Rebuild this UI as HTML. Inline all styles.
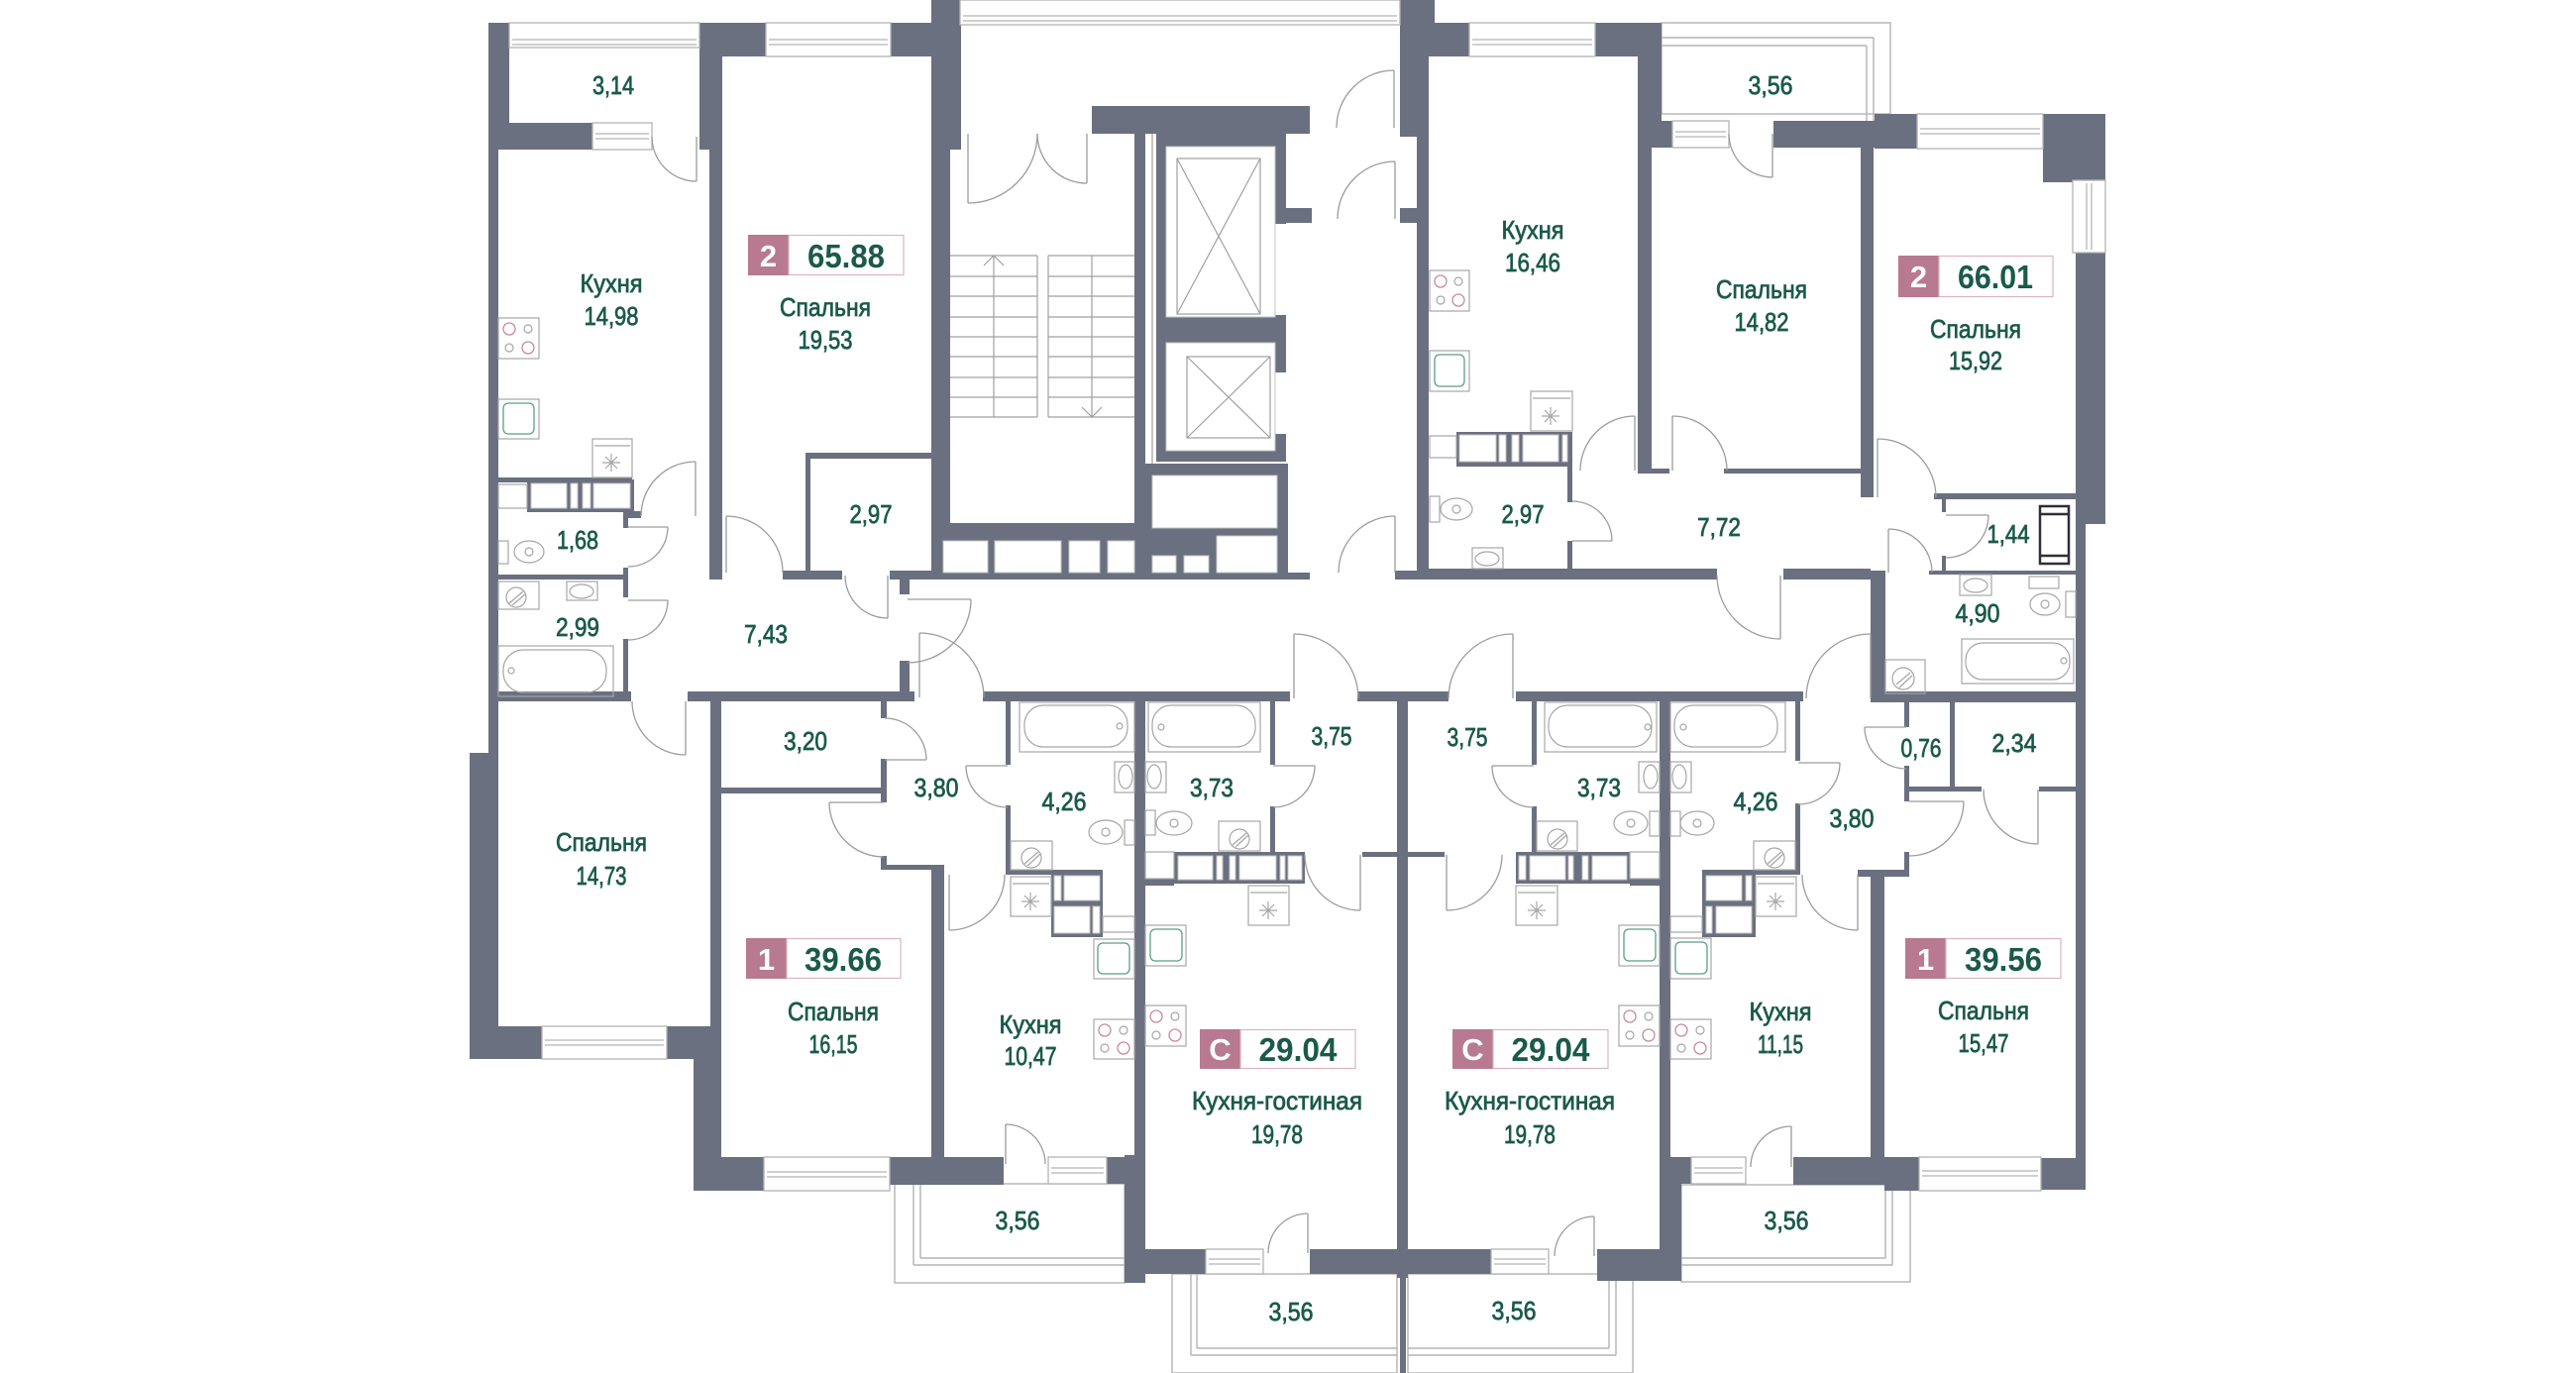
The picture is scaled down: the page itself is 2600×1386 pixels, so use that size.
<!DOCTYPE html>
<html><head><meta charset="utf-8">
<style>
html,body{margin:0;padding:0;background:#fff;}
svg{display:block;}
.lb{font-family:"Liberation Sans",sans-serif;fill:#1b5a4b;stroke:#1b5a4b;stroke-width:0.75;font-size:26px;text-anchor:middle;}
.bn{font-family:"Liberation Sans",sans-serif;fill:#1b5a4b;font-size:33px;font-weight:bold;text-anchor:middle;}
.bp{font-family:"Liberation Sans",sans-serif;fill:#fff;font-size:31px;font-weight:bold;text-anchor:middle;}
</style></head><body>
<svg width="2600" height="1386" viewBox="0 0 2600 1386" xmlns="http://www.w3.org/2000/svg">
<rect x="0" y="0" width="2600" height="1386" fill="#fff"/>

<!-- balcony frames -->
<g fill="none" stroke="#b3b3b3" stroke-width="1.4">
<rect x="1677" y="23" width="231" height="92"/>
<line x1="1677" y1="38" x2="1891" y2="38"/><line x1="1677" y1="46" x2="1884" y2="46"/>
<line x1="1884" y1="46" x2="1884" y2="122"/><line x1="1891" y1="38" x2="1891" y2="122"/>
<rect x="903" y="1195" width="232" height="100"/>
<line x1="922" y1="1195" x2="922" y2="1277"/><line x1="929" y1="1195" x2="929" y2="1270"/>
<line x1="929" y1="1270" x2="1135" y2="1270"/><line x1="922" y1="1277" x2="1135" y2="1277"/>
<rect x="1183" y="1286" width="227" height="100"/>
<line x1="1202" y1="1286" x2="1202" y2="1368"/><line x1="1208" y1="1286" x2="1208" y2="1361"/>
<line x1="1208" y1="1361" x2="1410" y2="1361"/><line x1="1202" y1="1368" x2="1410" y2="1368"/>
<rect x="1421" y="1286" width="227" height="100"/>
<line x1="1631" y1="1286" x2="1631" y2="1368"/><line x1="1624" y1="1286" x2="1624" y2="1361"/>
<line x1="1421" y1="1361" x2="1624" y2="1361"/><line x1="1421" y1="1368" x2="1631" y2="1368"/>
<rect x="1697" y="1196" width="231" height="98"/>
<line x1="1910" y1="1196" x2="1910" y2="1277"/><line x1="1903" y1="1196" x2="1903" y2="1270"/>
<line x1="1697" y1="1270" x2="1903" y2="1270"/><line x1="1697" y1="1277" x2="1910" y2="1277"/>
</g>

<!-- walls -->
<g fill="#6b7080">
<rect x="493" y="23" width="21" height="101"/>
<rect x="493" y="124" width="10" height="640"/>
<rect x="474" y="760" width="29" height="309"/>
<rect x="503" y="124" width="95" height="27"/>
<rect x="706" y="23" width="23" height="128"/>
<rect x="716" y="151" width="13" height="434"/>
<rect x="729" y="23" width="44" height="34"/>
<rect x="899" y="23" width="43" height="34"/>
<rect x="940" y="0" width="30" height="151"/>
<rect x="940" y="151" width="19" height="377"/>
<rect x="813" y="457" width="5" height="128"/>
<rect x="813" y="457" width="129" height="6"/>
<rect x="790" y="576" width="60" height="9"/>
<rect x="898" y="576" width="42" height="9"/>
<rect x="908" y="576" width="10" height="24"/>
<rect x="908" y="667" width="10" height="36"/>
<rect x="503" y="482" width="135" height="5"/>
<rect x="532" y="484" width="108" height="33"/>
<rect x="629" y="516" width="18" height="7"/>
<rect x="629" y="516" width="5" height="17"/>
<rect x="629" y="573" width="5" height="30"/>
<rect x="629" y="645" width="5" height="58"/>
<rect x="503" y="580" width="131" height="5"/>
<rect x="503" y="698" width="134" height="10"/>
<rect x="694" y="698" width="229" height="10"/>
<!-- stair / lobby -->
<rect x="1145" y="135" width="11" height="393"/>
<rect x="1102" y="107" width="220" height="28"/>
<rect x="940" y="528" width="205" height="57"/>
<rect x="1145" y="468" width="155" height="117"/>
<rect x="1300" y="578" width="22" height="7"/>
<rect x="1167" y="135" width="131" height="13"/>
<rect x="1167" y="135" width="10" height="331"/>
<rect x="1287" y="148" width="11" height="78"/>
<rect x="1298" y="210" width="26" height="15"/>
<rect x="1177" y="320" width="110" height="26"/>
<rect x="1287" y="318" width="11" height="58"/>
<rect x="1167" y="455" width="131" height="11"/>
<rect x="1287" y="438" width="11" height="28"/>
<rect x="1413" y="0" width="35" height="23"/>
<rect x="1413" y="23" width="70" height="34"/>
<rect x="1413" y="57" width="29" height="81"/>
<rect x="1430" y="138" width="12" height="447"/>
<rect x="1413" y="210" width="17" height="15"/>
<rect x="1408" y="576" width="32" height="9"/>
<!-- top right unit -->
<rect x="1610" y="23" width="43" height="34"/>
<rect x="1653" y="23" width="24" height="126"/>
<rect x="1653" y="149" width="14" height="329"/>
<rect x="1667" y="473" width="18" height="5"/>
<rect x="1677" y="122" width="11" height="27"/>
<rect x="1790" y="122" width="102" height="27"/>
<rect x="1892" y="115" width="43" height="35"/>
<rect x="2062" y="115" width="63" height="69"/>
<rect x="2095" y="255" width="30" height="274"/>
<rect x="2095" y="529" width="10" height="672"/>
<rect x="1878" y="149" width="13" height="353"/>
<rect x="1740" y="473" width="138" height="5"/>
<rect x="1470" y="436" width="117" height="35"/>
<rect x="1582" y="436" width="5" height="71"/>
<rect x="1582" y="546" width="5" height="30"/>
<rect x="1440" y="574" width="293" height="11"/>
<rect x="1800" y="574" width="88" height="11"/>
<rect x="1888" y="576" width="15" height="133"/>
<rect x="1947" y="576" width="148" height="4"/>
<rect x="1952" y="498" width="143" height="6"/>
<rect x="1960" y="504" width="4" height="13"/>
<rect x="1960" y="561" width="4" height="15"/>
<!-- corridor bottom + bottom units -->
<rect x="992" y="698" width="310" height="10"/>
<rect x="1370" y="698" width="92" height="10"/>
<rect x="1530" y="698" width="290" height="10"/>
<rect x="1888" y="698" width="217" height="11"/>
<rect x="1410" y="708" width="11" height="582"/>
<rect x="1413" y="1290" width="6" height="96"/>
<rect x="1145" y="708" width="11" height="460"/>
<rect x="1675" y="708" width="11" height="460"/>
<rect x="1015" y="708" width="5" height="64"/>
<rect x="1015" y="813" width="5" height="70"/>
<rect x="1015" y="878" width="98" height="5"/>
<rect x="1061" y="880" width="52" height="66"/>
<rect x="1282" y="708" width="5" height="64"/>
<rect x="1282" y="814" width="5" height="46"/>
<rect x="1185" y="860" width="132" height="32"/>
<rect x="1156" y="887" width="29" height="7"/>
<rect x="1375" y="860" width="35" height="5"/>
<rect x="1421" y="860" width="37" height="5"/>
<rect x="1546" y="708" width="5" height="64"/>
<rect x="1546" y="814" width="5" height="46"/>
<rect x="1530" y="860" width="115" height="32"/>
<rect x="1645" y="887" width="30" height="7"/>
<rect x="1812" y="708" width="5" height="60"/>
<rect x="1812" y="811" width="5" height="72"/>
<rect x="1718" y="878" width="99" height="5"/>
<rect x="1718" y="880" width="54" height="66"/>
<rect x="1875" y="878" width="52" height="7"/>
<rect x="1888" y="878" width="14" height="291"/>
<rect x="717" y="708" width="11" height="460"/>
<rect x="728" y="795" width="161" height="6"/>
<rect x="889" y="708" width="6" height="17"/>
<rect x="889" y="766" width="6" height="44"/>
<rect x="889" y="864" width="6" height="14"/>
<rect x="889" y="873" width="64" height="5"/>
<rect x="940" y="873" width="13" height="295"/>
<rect x="1922" y="709" width="5" height="25"/>
<rect x="1922" y="773" width="5" height="36"/>
<rect x="1968" y="709" width="5" height="85"/>
<rect x="1927" y="794" width="73" height="5"/>
<rect x="2058" y="794" width="37" height="5"/>
<rect x="1922" y="860" width="5" height="24"/>
<!-- bottom outer walls -->
<rect x="474" y="1036" width="73" height="33"/>
<rect x="673" y="1036" width="55" height="33"/>
<rect x="700" y="1069" width="28" height="133"/>
<rect x="700" y="1168" width="71" height="34"/>
<rect x="898" y="1168" width="115" height="28"/>
<rect x="1117" y="1168" width="39" height="27"/>
<rect x="1135" y="1166" width="21" height="129"/>
<rect x="1135" y="1261" width="82" height="25"/>
<rect x="1322" y="1261" width="88" height="25"/>
<rect x="1421" y="1261" width="84" height="25"/>
<rect x="1612" y="1261" width="85" height="32"/>
<rect x="1675" y="1168" width="22" height="125"/>
<rect x="1686" y="1168" width="21" height="27"/>
<rect x="1810" y="1168" width="123" height="28"/>
<rect x="1902" y="1168" width="35" height="34"/>
<rect x="2060" y="1169" width="45" height="32"/>
</g>

<!-- white holes in dark blocks -->
<g fill="#fff" stroke="#c4c4c4" stroke-width="1">
<rect x="536" y="488" width="36" height="25"/><rect x="576" y="488" width="7" height="25"/><rect x="588" y="488" width="8" height="25"/><rect x="599" y="488" width="37" height="25"/>
<rect x="952" y="546" width="45" height="32"/><rect x="1004" y="546" width="67" height="32"/><rect x="1079" y="546" width="31" height="32"/><rect x="1118" y="546" width="27" height="32"/>
<rect x="1163" y="480" width="126" height="53"/><rect x="1163" y="561" width="24" height="17"/><rect x="1195" y="561" width="25" height="17"/><rect x="1228" y="541" width="61" height="37"/>
<rect x="1473" y="439" width="37" height="27"/><rect x="1513" y="439" width="7" height="27"/><rect x="1526" y="439" width="7" height="27"/><rect x="1537" y="439" width="36" height="27"/><rect x="1577" y="439" width="5" height="27"/>
<rect x="1064" y="884" width="7" height="25"/><rect x="1074" y="884" width="36" height="25"/><rect x="1064" y="915" width="36" height="27"/><rect x="1103" y="915" width="7" height="27"/>
<rect x="1189" y="864" width="35" height="24"/><rect x="1228" y="864" width="6" height="24"/><rect x="1241" y="864" width="6" height="24"/><rect x="1251" y="864" width="37" height="24"/><rect x="1292" y="864" width="5" height="24"/><rect x="1300" y="864" width="14" height="24"/>
<rect x="1533" y="864" width="7" height="24"/><rect x="1544" y="864" width="36" height="24"/><rect x="1583" y="864" width="5" height="24"/><rect x="1597" y="864" width="6" height="24"/><rect x="1607" y="864" width="35" height="24"/>
<rect x="1722" y="884" width="36" height="25"/><rect x="1762" y="884" width="6" height="25"/><rect x="1722" y="915" width="6" height="27"/><rect x="1732" y="915" width="36" height="27"/>
<rect x="1177" y="148" width="110" height="172"/>
<rect x="1177" y="346" width="110" height="109"/>
</g>

<!-- windows -->
<g fill="#fff" stroke="#b3b3b3" stroke-width="1.3">
<rect x="514" y="23" width="192" height="25"/><line x1="517" y1="40" x2="703" y2="40"/><line x1="517" y1="45" x2="703" y2="45"/>
<rect x="598" y="124" width="60" height="27"/><line x1="601" y1="135" x2="655" y2="135"/><line x1="601" y1="140" x2="655" y2="140"/>
<rect x="773" y="23" width="126" height="34"/><line x1="776" y1="40" x2="896" y2="40"/><line x1="776" y1="45" x2="896" y2="45"/>
<rect x="969" y="0" width="444" height="25"/><line x1="972" y1="16" x2="1410" y2="16"/><line x1="972" y1="21" x2="1410" y2="21"/>
<rect x="1483" y="23" width="127" height="34"/><line x1="1486" y1="40" x2="1607" y2="40"/><line x1="1486" y1="45" x2="1607" y2="45"/>
<rect x="1688" y="122" width="57" height="27"/><line x1="1691" y1="133" x2="1742" y2="133"/><line x1="1691" y1="138" x2="1742" y2="138"/>
<rect x="1935" y="115" width="127" height="35"/><line x1="1938" y1="130" x2="2059" y2="130"/><line x1="1938" y1="135" x2="2059" y2="135"/>
<rect x="2092" y="182" width="33" height="73"/><line x1="2106" y1="185" x2="2106" y2="252"/><line x1="2111" y1="185" x2="2111" y2="252"/>
<rect x="547" y="1036" width="126" height="33"/><line x1="550" y1="1050" x2="670" y2="1050"/><line x1="550" y1="1055" x2="670" y2="1055"/>
<rect x="771" y="1168" width="127" height="34"/><line x1="774" y1="1183" x2="895" y2="1183"/><line x1="774" y1="1188" x2="895" y2="1188"/>
<rect x="1058" y="1168" width="59" height="27"/><line x1="1061" y1="1179" x2="1114" y2="1179"/><line x1="1061" y1="1184" x2="1114" y2="1184"/>
<rect x="1217" y="1261" width="58" height="25"/><line x1="1220" y1="1271" x2="1272" y2="1271"/><line x1="1220" y1="1276" x2="1272" y2="1276"/>
<rect x="1505" y="1261" width="58" height="25"/><line x1="1508" y1="1271" x2="1560" y2="1271"/><line x1="1508" y1="1276" x2="1560" y2="1276"/>
<rect x="1707" y="1168" width="55" height="27"/><line x1="1710" y1="1179" x2="1759" y2="1179"/><line x1="1710" y1="1184" x2="1759" y2="1184"/>
<rect x="1937" y="1168" width="123" height="34"/><line x1="1940" y1="1182" x2="2057" y2="1182"/><line x1="1940" y1="1187" x2="2057" y2="1187"/>
</g>

<!-- doors -->
<g fill="none" stroke="#9c9c9c" stroke-width="1.3">
<path d="M702 466 A55 55 0 0 0 647 521"/><line x1="702" y1="521" x2="702" y2="466"/>
<path d="M703 183 A45 45 0 0 1 658 138"/><line x1="703" y1="138" x2="703" y2="183"/>
<path d="M674 532 A40 40 0 0 1 634 572"/><line x1="634" y1="532" x2="674" y2="532"/>
<path d="M674 606 A40 40 0 0 1 634 646"/><line x1="634" y1="606" x2="674" y2="606"/>
<path d="M733 521 A57 57 0 0 1 790 578"/><line x1="733" y1="578" x2="733" y2="521"/>
<path d="M896 624 A43 43 0 0 1 853 581"/><line x1="896" y1="581" x2="896" y2="624"/>
<path d="M692 762 A54 54 0 0 1 638 708"/><line x1="692" y1="708" x2="692" y2="762"/>
<path d="M980 605 A64 64 0 0 1 916 669"/><line x1="916" y1="605" x2="980" y2="605"/>
<path d="M928 639 A65 65 0 0 1 993 704"/><line x1="928" y1="704" x2="928" y2="639"/>
<path d="M935 767 A42 42 0 0 0 893 725"/><line x1="893" y1="767" x2="935" y2="767"/>
<path d="M837 810 A55 55 0 0 0 892 865"/><line x1="892" y1="810" x2="837" y2="810"/>
<path d="M975 773 A42 42 0 0 0 1017 815"/><line x1="1017" y1="773" x2="975" y2="773"/>
<path d="M958 939 A56 56 0 0 0 1014 883"/><line x1="958" y1="883" x2="958" y2="939"/>
<path d="M1327 773 A42 42 0 0 1 1285 815"/><line x1="1285" y1="773" x2="1327" y2="773"/>
<path d="M1373 919 A56 56 0 0 1 1317 863"/><line x1="1373" y1="863" x2="1373" y2="919"/>
<path d="M1306 640 A65 65 0 0 1 1371 705"/><line x1="1306" y1="705" x2="1306" y2="640"/>
<path d="M1527 640 A65 65 0 0 0 1462 705"/><line x1="1527" y1="705" x2="1527" y2="640"/>
<path d="M1506 773 A42 42 0 0 0 1548 815"/><line x1="1548" y1="773" x2="1506" y2="773"/>
<path d="M1460 919 A56 56 0 0 0 1516 863"/><line x1="1460" y1="863" x2="1460" y2="919"/>
<path d="M1857 770 A42 42 0 0 1 1815 812"/><line x1="1815" y1="770" x2="1857" y2="770"/>
<path d="M1875 939 A56 56 0 0 1 1819 883"/><line x1="1875" y1="883" x2="1875" y2="939"/>
<path d="M1888 640 A65 65 0 0 0 1823 705"/><line x1="1888" y1="705" x2="1888" y2="640"/>
<path d="M1882 734 A42 42 0 0 0 1924 776"/><line x1="1924" y1="734" x2="1882" y2="734"/>
<path d="M1982 809 A55 55 0 0 1 1927 864"/><line x1="1927" y1="809" x2="1982" y2="809"/>
<path d="M2057 852 A55 55 0 0 1 2002 797"/><line x1="2057" y1="797" x2="2057" y2="852"/>
<path d="M1015 1135 A40 40 0 0 1 1055 1175"/><line x1="1015" y1="1175" x2="1015" y2="1135"/>
<path d="M1320 1225 A40 40 0 0 0 1280 1265"/><line x1="1320" y1="1265" x2="1320" y2="1225"/>
<path d="M1609 1228 A40 40 0 0 0 1569 1268"/><line x1="1609" y1="1268" x2="1609" y2="1228"/>
<path d="M1808 1137 A41 41 0 0 0 1767 1178"/><line x1="1808" y1="1178" x2="1808" y2="1137"/>
<path d="M1408 521 A57 57 0 0 0 1351 578"/><line x1="1408" y1="578" x2="1408" y2="521"/>
<path d="M1407 71 A58 58 0 0 0 1349 129"/><line x1="1407" y1="129" x2="1407" y2="71"/>
<path d="M1408 163 A58 58 0 0 0 1350 221"/><line x1="1408" y1="221" x2="1408" y2="163"/>
<path d="M977 205 A70 70 0 0 0 1047 135"/><line x1="977" y1="135" x2="977" y2="205"/>
<path d="M1097 185 A50 50 0 0 1 1047 135"/><line x1="1097" y1="135" x2="1097" y2="185"/>
<path d="M1650 420 A55 55 0 0 0 1595 475"/><line x1="1650" y1="475" x2="1650" y2="420"/>
<path d="M1688 420 A55 55 0 0 1 1743 475"/><line x1="1688" y1="475" x2="1688" y2="420"/>
<path d="M1789 179 A44 44 0 0 1 1745 135"/><line x1="1789" y1="135" x2="1789" y2="179"/>
<path d="M1627 546 A40 40 0 0 0 1587 506"/><line x1="1587" y1="546" x2="1627" y2="546"/>
<path d="M1797 645 A64 64 0 0 1 1733 581"/><line x1="1797" y1="581" x2="1797" y2="645"/>
<path d="M1895 443 A59 59 0 0 1 1954 502"/><line x1="1895" y1="502" x2="1895" y2="443"/>
<path d="M2007 520 A43 43 0 0 1 1964 563"/><line x1="1964" y1="520" x2="2007" y2="520"/>
<path d="M1906 534 A44 44 0 0 1 1950 578"/><line x1="1906" y1="578" x2="1906" y2="534"/>
</g>

<!-- stairs & elevators -->
<g fill="none" stroke="#a0a0a0" stroke-width="1.2">
<path d="M959 258H1047M1058 258H1145M959 279H1047M1058 279H1145M959 299H1047M1058 299H1145M959 320H1047M1058 320H1145M959 340H1047M1058 340H1145M959 360H1047M1058 360H1145M959 381H1047M1058 381H1145M959 401H1047M1058 401H1145M959 421H1047M1058 421H1145"/>
<path d="M1047 258V421M1058 258V421M1003 258V421M1102 258V421"/>
<path d="M993 268L1003 258L1013 268M1092 411L1102 421L1112 411"/>
<rect x="1188" y="160" width="84" height="157"/><path d="M1188 160L1272 317M1272 160L1188 317"/>
<rect x="1198" y="360" width="84" height="82"/><path d="M1198 360L1282 442M1282 360L1198 442"/>
<line x1="1163" y1="135" x2="1163" y2="468"/>
</g>

<!-- fixtures -->
<g fill="none" stroke="#a6a6a6" stroke-width="1.2">
<rect x="503" y="652" width="116" height="51"/><rect x="508" y="656" width="104" height="43" rx="20"/><circle cx="516" cy="677" r="3"/>
<rect x="1980" y="645" width="113" height="45"/><rect x="1984" y="649" width="105" height="37" rx="17"/><circle cx="2083" cy="667" r="3"/>
<rect x="1029" y="709" width="116" height="50"/><rect x="1034" y="712" width="104" height="42" rx="19"/><circle cx="1130" cy="733" r="3"/>
<rect x="1159" y="709" width="113" height="50"/><rect x="1163" y="712" width="104" height="42" rx="19"/><circle cx="1172" cy="734" r="3"/>
<rect x="1559" y="709" width="113" height="50"/><rect x="1563" y="712" width="104" height="42" rx="19"/><circle cx="1663" cy="734" r="3"/>
<rect x="1686" y="709" width="116" height="50"/><rect x="1690" y="712" width="104" height="42" rx="19"/><circle cx="1699" cy="734" r="3"/>
<rect x="503" y="546" width="10" height="23"/><ellipse cx="534" cy="557" rx="15" ry="11"/><circle cx="534" cy="557" r="4"/>
<rect x="1443" y="501" width="10" height="26"/><ellipse cx="1470" cy="514" rx="16" ry="11"/><circle cx="1470" cy="514" r="4"/>
<rect x="2085" y="597" width="10" height="26"/><ellipse cx="2064" cy="610" rx="15" ry="11"/><circle cx="2064" cy="610" r="4"/>
<rect x="1135" y="828" width="10" height="25"/><ellipse cx="1116" cy="840" rx="17" ry="12"/><circle cx="1116" cy="840" r="4"/>
<rect x="1156" y="818" width="10" height="25"/><ellipse cx="1185" cy="831" rx="18" ry="12"/><circle cx="1185" cy="831" r="4"/>
<rect x="1665" y="819" width="10" height="25"/><ellipse cx="1646" cy="831" rx="17" ry="12"/><circle cx="1646" cy="831" r="4"/>
<rect x="1686" y="819" width="10" height="25"/><ellipse cx="1713" cy="831" rx="17" ry="12"/><circle cx="1713" cy="831" r="4"/>
<rect x="572" y="587" width="31" height="19"/><ellipse cx="587" cy="597" rx="12" ry="7"/>
<rect x="1486" y="553" width="31" height="21"/><ellipse cx="1501" cy="564" rx="12" ry="7"/>
<rect x="1978" y="580" width="32" height="21"/><ellipse cx="1994" cy="591" rx="12" ry="7"/>
<rect x="1125" y="769" width="20" height="31"/><ellipse cx="1136" cy="784" rx="7" ry="12"/>
<rect x="1156" y="769" width="21" height="31"/><ellipse cx="1165" cy="784" rx="7" ry="12"/>
<rect x="1654" y="769" width="21" height="31"/><ellipse cx="1666" cy="784" rx="7" ry="12"/>
<rect x="1686" y="769" width="21" height="31"/><ellipse cx="1695" cy="784" rx="7" ry="12"/>
<rect x="503" y="587" width="41" height="28"/><circle cx="521" cy="603" r="10"/><path d="M514 609L528 597M517 611L530 600"/>
<rect x="1903" y="666" width="40" height="34"/><circle cx="1921" cy="685" r="11"/><path d="M1914 691L1928 679M1917 694L1930 682"/>
<rect x="1020" y="849" width="42" height="29"/><circle cx="1041" cy="866" r="10"/><path d="M1034 872L1048 860M1037 874L1050 862"/>
<rect x="1230" y="829" width="42" height="30"/><circle cx="1251" cy="847" r="10"/><path d="M1244 853L1258 841M1247 855L1260 843"/>
<rect x="1551" y="829" width="41" height="30"/><circle cx="1572" cy="847" r="10"/><path d="M1565 853L1579 841M1568 855L1581 843"/>
<rect x="1770" y="849" width="42" height="29"/><circle cx="1791" cy="866" r="10"/><path d="M1784 872L1798 860M1787 874L1800 862"/>
<rect x="598" y="443" width="40" height="39"/><line x1="600" y1="450" x2="636" y2="450"/><path d="M608 467H626M617 458V476M611 461L623 473M623 461L611 473"/>
<rect x="1545" y="395" width="42" height="40"/><line x1="1547" y1="402" x2="1585" y2="402"/><path d="M1556 420H1574M1565 411V429M1559 414L1571 426M1571 414L1559 426"/>
<rect x="1020" y="885" width="41" height="40"/><line x1="1022" y1="892" x2="1059" y2="892"/><path d="M1031 910H1049M1040 901V919M1034 904L1046 916M1046 904L1034 916"/>
<rect x="1260" y="894" width="41" height="40"/><line x1="1262" y1="901" x2="1299" y2="901"/><path d="M1271 919H1289M1280 910V928M1274 913L1286 925M1286 913L1274 925"/>
<rect x="1530" y="894" width="42" height="40"/><line x1="1532" y1="901" x2="1570" y2="901"/><path d="M1542 919H1560M1551 910V928M1545 913L1557 925M1557 913L1545 925"/>
<rect x="1772" y="885" width="41" height="40"/><line x1="1774" y1="892" x2="1811" y2="892"/><path d="M1783 910H1801M1792 901V919M1786 904L1798 916M1798 904L1786 916"/>
<rect x="503" y="489" width="29" height="24"/>
<rect x="1443" y="440" width="27" height="22"/>
<rect x="1113" y="925" width="32" height="16"/>
<rect x="1686" y="925" width="32" height="16"/>
<rect x="1156" y="860" width="29" height="27"/>
<rect x="1645" y="860" width="30" height="27"/>
<rect x="2048" y="582" width="30" height="12"/>
<rect x="503" y="403" width="41" height="40"/><rect x="1443" y="354" width="40" height="41"/>
<rect x="1104" y="948" width="41" height="40"/><rect x="1156" y="934" width="41" height="41"/>
<rect x="1634" y="934" width="41" height="41"/><rect x="1686" y="947" width="41" height="41"/>
<rect x="503" y="321" width="41" height="41"/><rect x="1443" y="273" width="40" height="41"/>
<rect x="1104" y="1029" width="41" height="40"/><rect x="1156" y="1015" width="41" height="41"/>
<rect x="1634" y="1015" width="41" height="41"/><rect x="1686" y="1029" width="41" height="40"/>
<circle cx="533" cy="332" r="4"/><circle cx="514" cy="351" r="4"/>
<circle cx="1472" cy="284" r="4"/><circle cx="1454" cy="303" r="4"/>
<circle cx="1134" cy="1040" r="4"/><circle cx="1115" cy="1058" r="4"/>
<circle cx="1186" cy="1026" r="4"/><circle cx="1167" cy="1045" r="4"/>
<circle cx="1664" cy="1026" r="4"/><circle cx="1645" cy="1045" r="4"/>
<circle cx="1716" cy="1040" r="4"/><circle cx="1697" cy="1058" r="4"/>
</g>
<g fill="none" stroke="#c98a9c" stroke-width="1.3">
<circle cx="514" cy="332" r="6"/><circle cx="533" cy="351" r="6"/>
<circle cx="1454" cy="284" r="6"/><circle cx="1472" cy="303" r="6"/>
<circle cx="1115" cy="1040" r="6"/><circle cx="1134" cy="1058" r="6"/>
<circle cx="1167" cy="1026" r="6"/><circle cx="1186" cy="1045" r="6"/>
<circle cx="1645" cy="1026" r="6"/><circle cx="1664" cy="1045" r="6"/>
<circle cx="1697" cy="1040" r="6"/><circle cx="1716" cy="1058" r="6"/>
</g>
<g fill="none" stroke="#5a9e8a" stroke-width="1.3">
<rect x="508" y="407" width="31" height="31" rx="5"/>
<rect x="1448" y="358" width="30" height="32" rx="5"/>
<rect x="1108" y="952" width="32" height="31" rx="5"/>
<rect x="1161" y="938" width="32" height="32" rx="5"/>
<rect x="1639" y="938" width="32" height="32" rx="5"/>
<rect x="1691" y="951" width="32" height="32" rx="5"/>
</g>
<g fill="none" stroke="#2f2f3a" stroke-width="2.5">
<rect x="2059" y="511" width="29" height="58"/><line x1="2059" y1="519" x2="2088" y2="519"/><line x1="2059" y1="561" x2="2088" y2="561"/>
</g>

<!-- badges -->
<g>
<rect x="755" y="237" width="41" height="41" fill="#b87a90"/><rect x="796" y="237.5" width="116" height="40" fill="#fff" stroke="#dcb3c1" stroke-width="1.2"/>
<text class="bp" x="775.5" y="269">2</text><text class="bn" x="854" y="270" textLength="78" lengthAdjust="spacingAndGlyphs">65.88</text>
<rect x="1916" y="258" width="41" height="42" fill="#b87a90"/><rect x="1957" y="258.5" width="115" height="41" fill="#fff" stroke="#dcb3c1" stroke-width="1.2"/>
<text class="bp" x="1936.5" y="290">2</text><text class="bn" x="2014" y="291" textLength="76" lengthAdjust="spacingAndGlyphs">66.01</text>
<rect x="753" y="947" width="41" height="41" fill="#b87a90"/><rect x="794" y="947.5" width="115" height="40" fill="#fff" stroke="#dcb3c1" stroke-width="1.2"/>
<text class="bp" x="773.5" y="979">1</text><text class="bn" x="851" y="980" textLength="78" lengthAdjust="spacingAndGlyphs">39.66</text>
<rect x="1923" y="947" width="41" height="41" fill="#b87a90"/><rect x="1964" y="947.5" width="116" height="40" fill="#fff" stroke="#dcb3c1" stroke-width="1.2"/>
<text class="bp" x="1943.5" y="979">1</text><text class="bn" x="2022" y="980" textLength="78" lengthAdjust="spacingAndGlyphs">39.56</text>
<rect x="1211" y="1039" width="41" height="40" fill="#b87a90"/><rect x="1252" y="1039.5" width="116" height="39" fill="#fff" stroke="#dcb3c1" stroke-width="1.2"/>
<text class="bp" x="1231.5" y="1070">С</text><text class="bn" x="1310" y="1071" textLength="79" lengthAdjust="spacingAndGlyphs">29.04</text>
<rect x="1466" y="1039" width="41" height="40" fill="#b87a90"/><rect x="1507" y="1039.5" width="116" height="39" fill="#fff" stroke="#dcb3c1" stroke-width="1.2"/>
<text class="bp" x="1486.5" y="1070">С</text><text class="bn" x="1565" y="1071" textLength="79" lengthAdjust="spacingAndGlyphs">29.04</text>
</g>

<!-- labels -->
<g>
<text class="lb" x="619" y="95" textLength="42" lengthAdjust="spacingAndGlyphs">3,14</text>
<text class="lb" x="617" y="295" textLength="63" lengthAdjust="spacingAndGlyphs">Кухня</text>
<text class="lb" x="617" y="328" textLength="55" lengthAdjust="spacingAndGlyphs">14,98</text>
<text class="lb" x="833" y="319" textLength="92" lengthAdjust="spacingAndGlyphs">Спальня</text>
<text class="lb" x="833" y="352" textLength="55" lengthAdjust="spacingAndGlyphs">19,53</text>
<text class="lb" x="879" y="528" textLength="43" lengthAdjust="spacingAndGlyphs">2,97</text>
<text class="lb" x="583" y="554" textLength="42" lengthAdjust="spacingAndGlyphs">1,68</text>
<text class="lb" x="583" y="642" textLength="44" lengthAdjust="spacingAndGlyphs">2,99</text>
<text class="lb" x="773" y="649" textLength="44" lengthAdjust="spacingAndGlyphs">7,43</text>
<text class="lb" x="1787" y="95" textLength="45" lengthAdjust="spacingAndGlyphs">3,56</text>
<text class="lb" x="1547" y="241" textLength="63" lengthAdjust="spacingAndGlyphs">Кухня</text>
<text class="lb" x="1547" y="274" textLength="56" lengthAdjust="spacingAndGlyphs">16,46</text>
<text class="lb" x="1778" y="301" textLength="92" lengthAdjust="spacingAndGlyphs">Спальня</text>
<text class="lb" x="1778" y="334" textLength="55" lengthAdjust="spacingAndGlyphs">14,82</text>
<text class="lb" x="1994" y="341" textLength="92" lengthAdjust="spacingAndGlyphs">Спальня</text>
<text class="lb" x="1994" y="373" textLength="54" lengthAdjust="spacingAndGlyphs">15,92</text>
<text class="lb" x="1537" y="528" textLength="43" lengthAdjust="spacingAndGlyphs">2,97</text>
<text class="lb" x="1735" y="541" textLength="44" lengthAdjust="spacingAndGlyphs">7,72</text>
<text class="lb" x="2027" y="548" textLength="43" lengthAdjust="spacingAndGlyphs">1,44</text>
<text class="lb" x="1996" y="628" textLength="45" lengthAdjust="spacingAndGlyphs">4,90</text>
<text class="lb" x="813" y="757" textLength="44" lengthAdjust="spacingAndGlyphs">3,20</text>
<text class="lb" x="945" y="804" textLength="45" lengthAdjust="spacingAndGlyphs">3,80</text>
<text class="lb" x="1074" y="818" textLength="45" lengthAdjust="spacingAndGlyphs">4,26</text>
<text class="lb" x="1223" y="804" textLength="44" lengthAdjust="spacingAndGlyphs">3,73</text>
<text class="lb" x="1344" y="752" textLength="41" lengthAdjust="spacingAndGlyphs">3,75</text>
<text class="lb" x="607" y="859" textLength="92" lengthAdjust="spacingAndGlyphs">Спальня</text>
<text class="lb" x="607" y="893" textLength="51" lengthAdjust="spacingAndGlyphs">14,73</text>
<text class="lb" x="841" y="1030" textLength="92" lengthAdjust="spacingAndGlyphs">Спальня</text>
<text class="lb" x="841" y="1063" textLength="49" lengthAdjust="spacingAndGlyphs">16,15</text>
<text class="lb" x="1040" y="1043" textLength="63" lengthAdjust="spacingAndGlyphs">Кухня</text>
<text class="lb" x="1040" y="1075" textLength="53" lengthAdjust="spacingAndGlyphs">10,47</text>
<text class="lb" x="1289" y="1120" textLength="172" lengthAdjust="spacingAndGlyphs">Кухня-гостиная</text>
<text class="lb" x="1289" y="1154" textLength="52" lengthAdjust="spacingAndGlyphs">19,78</text>
<text class="lb" x="1027" y="1241" textLength="45" lengthAdjust="spacingAndGlyphs">3,56</text>
<text class="lb" x="1303" y="1333" textLength="45" lengthAdjust="spacingAndGlyphs">3,56</text>
<text class="lb" x="1481" y="753" textLength="41" lengthAdjust="spacingAndGlyphs">3,75</text>
<text class="lb" x="1614" y="804" textLength="44" lengthAdjust="spacingAndGlyphs">3,73</text>
<text class="lb" x="1772" y="818" textLength="45" lengthAdjust="spacingAndGlyphs">4,26</text>
<text class="lb" x="1869" y="835" textLength="45" lengthAdjust="spacingAndGlyphs">3,80</text>
<text class="lb" x="1939" y="764" textLength="41" lengthAdjust="spacingAndGlyphs">0,76</text>
<text class="lb" x="2033" y="759" textLength="45" lengthAdjust="spacingAndGlyphs">2,34</text>
<text class="lb" x="1544" y="1120" textLength="172" lengthAdjust="spacingAndGlyphs">Кухня-гостиная</text>
<text class="lb" x="1544" y="1154" textLength="52" lengthAdjust="spacingAndGlyphs">19,78</text>
<text class="lb" x="1797" y="1030" textLength="63" lengthAdjust="spacingAndGlyphs">Кухня</text>
<text class="lb" x="1797" y="1063" textLength="46" lengthAdjust="spacingAndGlyphs">11,15</text>
<text class="lb" x="2002" y="1029" textLength="92" lengthAdjust="spacingAndGlyphs">Спальня</text>
<text class="lb" x="2002" y="1062" textLength="51" lengthAdjust="spacingAndGlyphs">15,47</text>
<text class="lb" x="1803" y="1241" textLength="45" lengthAdjust="spacingAndGlyphs">3,56</text>
<text class="lb" x="1528" y="1332" textLength="45" lengthAdjust="spacingAndGlyphs">3,56</text>
</g>
</svg>
</body></html>
